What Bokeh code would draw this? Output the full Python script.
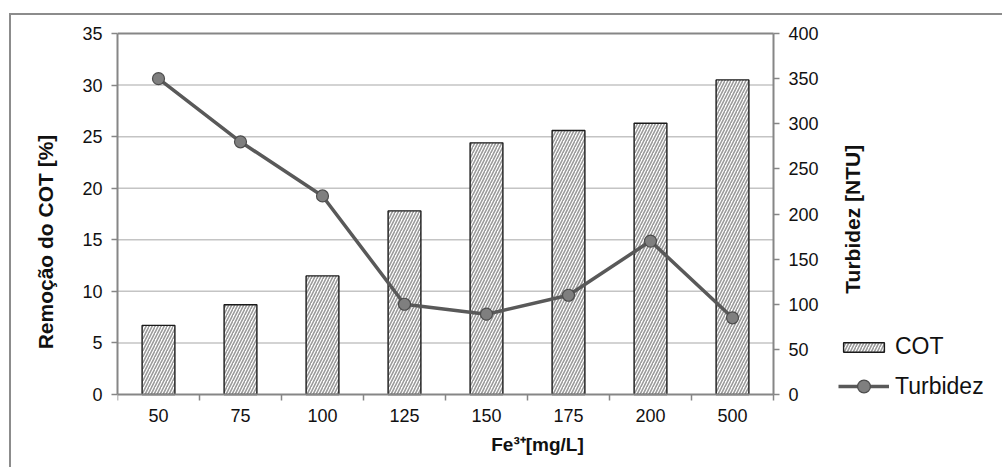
import math
from bokeh.plotting import figure
from bokeh.models import (Range1d, LinearAxis, FixedTicker, Legend, LegendItem,
                          ColumnDataSource, Label)
from bokeh.embed import file_html
from bokeh.resources import INLINE

categories = ["50", "75", "100", "125", "150", "175", "200", "500"]
cot = [6.7, 8.7, 11.5, 17.8, 24.4, 25.6, 26.3, 30.5]
turbidez = [350, 280, 220, 100, 89, 110, 170, 85]
left_ticks = [0, 5, 10, 15, 20, 25, 30, 35]
right_ticks = [0, 50, 100, 150, 200, 250, 300, 350, 400]

FONT = "Liberation Sans"
AXIS_C = "#868686"
GRID_C = "#c4c4c4"
BORDER_C = "#8c8c8c"
TXT_C = "#111111"

OX, OY = 11, 15                      # canvas offset in the page (after 2px border)
AL, AR, AT, AB = 117, 773, 33, 394   # plot area (axes) in page pixels
PL, PR, PT, PB = 117, 1002, 20, 467  # drawing frame in page pixels (larger, so nothing is clipped)

n = len(categories)
pos = list(range(1, n + 1))
x0, x1 = 0.5, n + 0.5
src = ColumnDataSource(dict(x=pos, cot=cot, turb=turbidez))

px_x = (AR - AL) / (x1 - x0)
lmax, rmax = left_ticks[-1], right_ticks[-1]
px_l = (AB - AT) / lmax
px_r = (AB - AT) / rmax

p = figure(frame_width=PR - PL, frame_height=PB - PT,
           output_backend="svg", toolbar_location=None,
           x_range=Range1d(x0, x0 + (PR - PL) / px_x),
           y_range=Range1d(-(PB - AB) / px_l, (AB - PT) / px_l),
           min_border_left=PL - OX, min_border_right=0,
           min_border_top=PT - OY, min_border_bottom=0,
           background_fill_color="white", border_fill_color="white",
           styles={"margin-left": "9px", "margin-top": "13px",
                   "border-left": f"2px solid {BORDER_C}",
                   "border-top": f"2px solid {BORDER_C}"})
p.outline_line_color = None
p.extra_y_ranges = {"turb": Range1d(-(PB - AB) / px_r, (AB - PT) / px_r)}

# gridlines limited to the plot area
p.xgrid.visible = False
p.ygrid.visible = False
gy = left_ticks[1:-1]
p.segment(x0=[x0] * len(gy), x1=[x1] * len(gy), y0=gy, y1=gy,
          line_color=GRID_C, line_width=1.5, level="underlay")
p.segment(x0=[x0], x1=[x1], y0=[lmax], y1=[lmax], line_color=AXIS_C,
          line_width=2, level="underlay")

bars = p.vbar(x="x", top="cot", width=0.4, source=src, fill_color="white",
              line_color="#1a1a1a", line_width=1.4, hatch_pattern="/",
              hatch_color="#9a9a9a", hatch_scale=6, hatch_weight=1.6)

line = p.line(x="x", y="turb", source=src, y_range_name="turb",
              line_color="#595959", line_width=3.5)
pts = p.scatter(x="x", y="turb", source=src, y_range_name="turb", size=12,
                fill_color="#7f7f7f", line_color="#4d4d4d", line_width=1.2)

def style_axis(ax, standoff):
    ax.major_tick_in = 0
    ax.minor_tick_in = 0
    ax.axis_line_color = AXIS_C
    ax.axis_line_width = 2
    ax.major_label_standoff = standoff
    ax.major_label_text_font = FONT
    ax.major_label_text_font_size = "18px"
    ax.major_label_text_color = TXT_C

xa = p.xaxis[0]
xa.fixed_location = 0
xa.bounds = (x0, x1)
xa.ticker = FixedTicker(ticks=pos, minor_ticks=[x - 0.5 for x in pos] + [x1])
xa.major_label_overrides = {x: c for x, c in zip(pos, categories)}
style_axis(xa, 8)
xa.major_tick_out = 0
xa.minor_tick_out = 6
xa.minor_tick_line_color = AXIS_C
xa.minor_tick_line_width = 1.5

ya = p.yaxis[0]
ya.bounds = (0, lmax)
ya.ticker = FixedTicker(ticks=left_ticks)
style_axis(ya, 9)
ya.major_tick_out = 6
ya.minor_tick_out = 0
ya.major_tick_line_color = AXIS_C
ya.major_tick_line_width = 1.5

ra = LinearAxis(y_range_name="turb", ticker=FixedTicker(ticks=right_ticks),
                fixed_location=x1, bounds=(0, rmax))
style_axis(ra, 9)
ra.major_tick_out = 6
ra.minor_tick_out = 0
ra.major_tick_line_color = AXIS_C
ra.major_tick_line_width = 1.5
p.add_layout(ra, "right")

# legends inside the (enlarged) frame, positioned from its bottom-left corner
leg_common = dict(orientation="vertical", label_text_font=FONT,
                  label_text_font_size="23px", label_text_color=TXT_C,
                  glyph_width=51, label_height=24, spacing=0, padding=0,
                  margin=0, label_standoff=6, border_line_alpha=0,
                  background_fill_alpha=0)
leg_a = Legend(items=[LegendItem(label="COT", renderers=[bars])],
               location=(838 - PL, PB - 347 - 13.25), glyph_height=12, **leg_common)
leg_b = Legend(items=[LegendItem(label="Turbidez", renderers=[line, pts])],
               location=(838 - PL, PB - 386 - 16), glyph_height=32, **leg_common)
p.add_layout(leg_a, "center")
p.add_layout(leg_b, "center")

# axis titles, placed in canvas pixels
def title(text, cx, cy, size, angle):
    return Label(x=cx - OX, y=cy - OY, x_units="canvas", y_units="canvas",
                 text=text, text_font=FONT, text_font_style="bold",
                 text_font_size=size, text_color=TXT_C, text_align="center",
                 text_baseline="middle", angle=angle)

p.add_layout(title("Remoção do COT [%]", 42.5, 239.5, "21px", math.pi / 2), "below")
p.add_layout(title("Turbidez [NTU]", 850, 216.7, "21px", math.pi / 2), "below")
p.add_layout(title("Fe³⁺[mg/L]", 535, 442, "19px", 0), "below")

open("out.html", "w").write(file_html(p, INLINE))
